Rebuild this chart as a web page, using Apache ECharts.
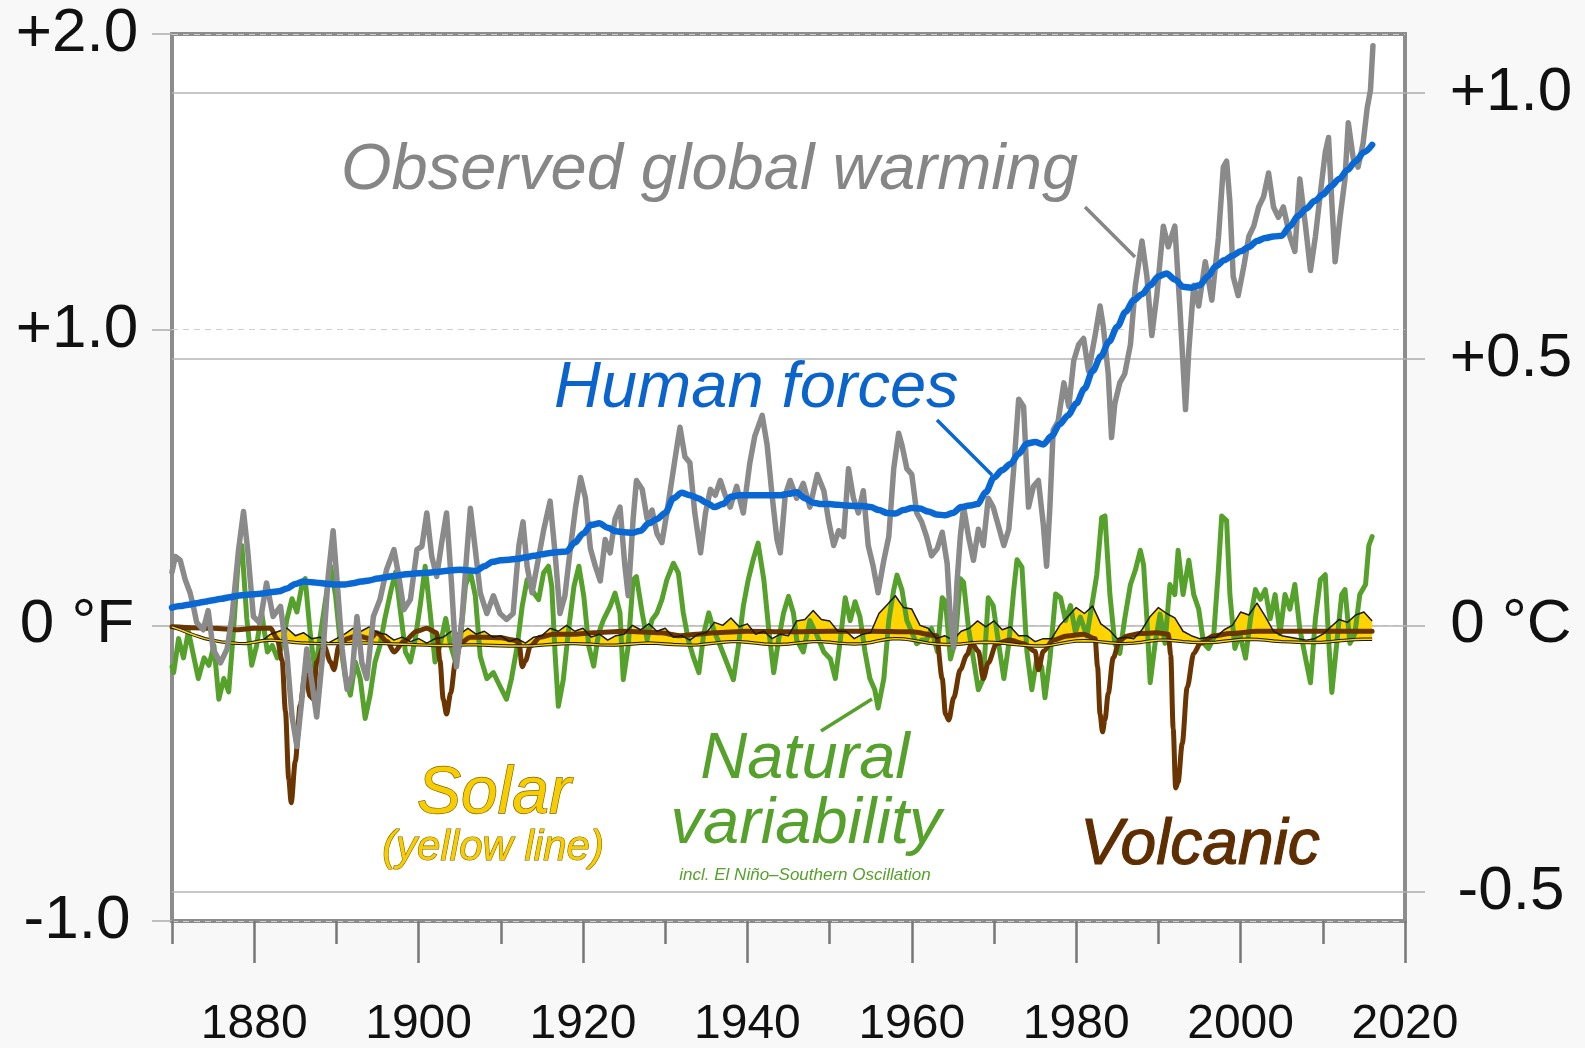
<!DOCTYPE html>
<html><head><meta charset="utf-8">
<script src="https://cdn.jsdelivr.net/npm/echarts@6/dist/echarts.min.js"></script>
<style>html,body{margin:0;padding:0;background:#f8f8f8}#c{width:1585px;height:1048px}</style>
</head><body><div id="c"></div><script>
// ---------- DATA (°F anomalies) ----------
const yearMin = 1870, yearMax = 2020;
const fTicks = [-1, 0, 1, 2];
const fTickLabels = {'2':'+2.0','1':'+1.0','0':'0 °F','-1':'-1.0'};
const cTicks = [-0.5, 0, 0.5, 1.0];
const cTickLabels = {'1':'+1.0','0.5':'+0.5','0':'0 °C','-0.5':'-0.5'};
const yearTickLabels = [1880,1900,1920,1940,1960,1980,2000,2020];

const humanStart = 1870;
const humanForces = [0.06,0.065,0.07,0.075,0.08,0.085,0.09,0.095,0.10,0.103,0.105,0.108,0.112,0.115,0.125,0.14,0.148,0.146,0.143,0.14,
0.138,0.138,0.142,0.148,0.152,0.158,0.163,0.167,0.171,0.174,0.176,0.178,0.18,0.183,0.186,0.188,0.186,0.184,0.20,0.215,
0.22,0.222,0.225,0.23,0.235,0.24,0.245,0.248,0.25,0.28,0.31,0.34,0.345,0.33,0.318,0.315,0.313,0.32,0.345,0.36,
0.38,0.43,0.448,0.44,0.43,0.415,0.40,0.41,0.435,0.44,0.44,0.44,0.44,0.44,0.44,0.445,0.45,0.43,0.415,0.41,
0.41,0.408,0.405,0.404,0.404,0.40,0.39,0.38,0.378,0.39,0.397,0.395,0.385,0.375,0.372,0.38,0.40,0.405,0.41,0.45,
0.50,0.525,0.546,0.58,0.615,0.62,0.612,0.64,0.68,0.71,0.75,0.80,0.86,0.91,0.96,1.01,1.06,1.10,1.12,1.15,
1.18,1.19,1.17,1.145,1.142,1.15,1.18,1.215,1.235,1.25,1.265,1.28,1.30,1.31,1.315,1.318,1.35,1.385,1.41,1.435,
1.457,1.485,1.51,1.54,1.57,1.60,1.625];

const observed = [[1870.0,0.18],[1870.4,0.233],[1871.0,0.22],[1871.6,0.155],[1872.2,0.11],[1872.6,0.064],[1873.0,0.01],[1873.8,-0.015],[1874.4,0.05],[1875.0,-0.08],[1875.9,-0.127],[1876.7,-0.08],[1877.3,0.03],[1878.1,0.256],[1878.7,0.385],[1879.2,0.256],[1879.9,0.03],[1880.7,0.008],[1881.5,0.143],[1882.3,0.03],[1883.2,0.064],[1884.0,-0.105],[1884.6,-0.308],[1885.2,-0.41],[1885.8,-0.25],[1886.4,-0.08],[1887.0,-0.19],[1887.6,-0.31],[1888.4,-0.08],[1889.0,0.165],[1889.6,0.32],[1890.1,0.143],[1890.7,-0.08],[1891.3,-0.217],[1891.9,-0.17],[1892.5,0.03],[1893.1,-0.127],[1893.7,-0.18],[1894.5,0.03],[1895.3,0.087],[1896.1,0.188],[1897.0,0.256],[1897.6,0.165],[1898.2,0.053],[1899.0,0.087],[1899.8,0.256],[1900.4,0.267],[1901.0,0.38],[1901.6,0.233],[1902.2,0.165],[1902.8,0.278],[1903.4,0.38],[1904.0,0.143],[1904.6,-0.14],[1905.3,0.03],[1905.9,0.256],[1906.3,0.396],[1906.9,0.256],[1907.5,0.11],[1908.3,0.04],[1909.1,0.10],[1909.9,0.04],[1910.7,0.02],[1911.5,0.04],[1912.2,0.27],[1912.7,0.35],[1913.2,0.20],[1913.8,0.11],[1914.4,0.20],[1915.2,0.32],[1916.0,0.42],[1916.6,0.245],[1917.2,0.04],[1917.8,0.10],[1918.4,0.245],[1919.1,0.40],[1919.7,0.50],[1920.3,0.43],[1920.9,0.26],[1921.5,0.20],[1922.1,0.15],[1922.7,0.29],[1923.3,0.245],[1923.9,0.36],[1924.5,0.40],[1925.1,0.20],[1925.5,0.10],[1926.1,0.36],[1926.5,0.49],[1927.2,0.46],[1927.8,0.36],[1928.4,0.39],[1929.0,0.31],[1929.6,0.28],[1930.2,0.38],[1930.8,0.49],[1931.4,0.60],[1931.8,0.67],[1932.4,0.57],[1933.0,0.55],[1933.6,0.38],[1934.3,0.245],[1934.9,0.38],[1935.5,0.46],[1936.1,0.44],[1936.7,0.49],[1937.3,0.44],[1937.9,0.40],[1938.7,0.47],[1939.5,0.38],[1940.3,0.55],[1940.9,0.64],[1941.8,0.71],[1942.4,0.61],[1943.0,0.44],[1943.6,0.29],[1944.0,0.245],[1944.6,0.44],[1945.2,0.49],[1946.0,0.43],[1946.8,0.48],[1947.6,0.40],[1948.5,0.51],[1949.3,0.455],[1949.9,0.35],[1950.5,0.27],[1951.1,0.32],[1951.7,0.30],[1952.3,0.53],[1952.9,0.43],[1953.5,0.38],[1954.1,0.455],[1954.7,0.27],[1955.3,0.20],[1955.9,0.11],[1956.6,0.22],[1957.2,0.30],[1957.8,0.53],[1958.4,0.65],[1958.8,0.61],[1959.4,0.53],[1960.0,0.51],[1960.6,0.38],[1961.2,0.35],[1961.8,0.30],[1962.4,0.235],[1963.1,0.26],[1963.7,0.315],[1964.3,0.21],[1964.7,0.015],[1965.1,-0.075],[1965.5,0.145],[1965.9,0.30],[1966.3,0.40],[1966.9,0.30],[1967.5,0.22],[1968.1,0.325],[1968.7,0.27],[1969.3,0.43],[1969.9,0.40],[1970.5,0.34],[1971.2,0.27],[1971.8,0.325],[1972.4,0.53],[1973.0,0.765],[1973.6,0.74],[1974.2,0.40],[1974.8,0.47],[1975.4,0.49],[1976.0,0.34],[1976.4,0.20],[1976.8,0.40],[1977.2,0.66],[1977.8,0.69],[1978.5,0.82],[1979.1,0.74],[1979.7,0.895],[1980.3,0.95],[1980.9,0.97],[1981.5,0.86],[1982.3,0.98],[1982.9,1.08],[1983.3,1.01],[1983.9,0.85],[1984.3,0.635],[1984.7,0.75],[1985.3,0.82],[1985.9,0.85],[1986.6,0.95],[1987.2,1.15],[1988.0,1.30],[1988.6,1.18],[1989.2,0.98],[1989.8,1.115],[1990.6,1.35],[1991.2,1.28],[1992.0,1.35],[1992.6,1.08],[1993.3,0.73],[1993.7,0.93],[1994.3,1.15],[1994.9,1.08],[1995.7,1.23],[1996.5,1.10],[1997.3,1.31],[1997.9,1.55],[1998.3,1.57],[1998.7,1.43],[1999.1,1.18],[1999.7,1.115],[2000.4,1.215],[2001.0,1.315],[2001.6,1.35],[2002.2,1.415],[2002.8,1.45],[2003.4,1.53],[2004.0,1.415],[2004.6,1.38],[2005.2,1.415],[2006.0,1.315],[2006.6,1.265],[2007.2,1.51],[2007.9,1.35],[2008.5,1.20],[2009.1,1.315],[2009.7,1.46],[2010.3,1.60],[2010.7,1.65],[2011.1,1.43],[2011.5,1.23],[2012.1,1.38],[2012.7,1.51],[2013.1,1.70],[2013.7,1.58],[2014.3,1.55],[2014.9,1.63],[2015.4,1.75],[2015.8,1.81],[2016.1,1.96]];

const natural = [[1870.0,-0.14],[1870.2,-0.16],[1870.8,-0.045],[1871.4,-0.11],[1872.0,-0.02],[1872.6,-0.10],[1873.2,-0.18],[1873.9,-0.11],[1874.5,-0.135],[1875.1,-0.068],[1875.7,-0.25],[1876.3,-0.18],[1876.9,-0.225],[1877.5,-0.01],[1878.1,0.237],[1878.5,0.27],[1879.1,0.023],[1879.7,-0.135],[1880.3,-0.068],[1880.9,0.045],[1881.6,-0.09],[1882.2,-0.068],[1882.8,-0.11],[1883.4,-0.068],[1884.0,0.023],[1884.6,0.09],[1885.2,0.045],[1885.8,0.135],[1886.2,0.158],[1886.8,-0.023],[1887.4,-0.158],[1888.1,-0.023],[1888.7,0.09],[1889.3,0.20],[1889.9,0.10],[1890.5,-0.068],[1891.1,-0.18],[1891.7,-0.236],[1892.3,-0.124],[1892.9,-0.18],[1893.5,-0.315],[1894.1,-0.236],[1894.7,-0.124],[1895.3,-0.068],[1895.9,0.023],[1896.6,0.113],[1897.2,0.18],[1897.8,0.045],[1898.4,-0.09],[1899.0,-0.124],[1899.6,-0.045],[1900.2,0.068],[1900.8,0.20],[1901.4,0.045],[1902.0,-0.124],[1902.6,-0.068],[1903.3,0.023],[1903.9,-0.068],[1904.5,-0.124],[1905.1,-0.045],[1905.7,0.135],[1906.3,0.18],[1906.9,0.10],[1907.5,-0.105],[1908.3,-0.18],[1909.1,-0.16],[1909.9,-0.206],[1910.7,-0.25],[1911.3,-0.18],[1912.0,-0.07],[1912.6,0.064],[1913.2,0.154],[1914.0,0.11],[1914.6,0.087],[1915.2,0.177],[1915.8,0.20],[1916.2,0.132],[1916.6,-0.094],[1917.0,-0.274],[1917.6,-0.184],[1918.2,-0.026],[1918.9,0.132],[1919.5,0.20],[1920.1,0.098],[1920.7,-0.07],[1921.3,-0.138],[1921.9,-0.026],[1922.5,0.019],[1923.3,0.064],[1923.9,0.109],[1924.5,0.042],[1924.9,-0.184],[1925.5,-0.07],[1926.1,0.154],[1926.5,0.165],[1927.2,0.042],[1927.8,-0.048],[1928.4,0.019],[1929.0,0.042],[1929.6,0.087],[1930.2,0.154],[1931.0,0.21],[1931.6,0.177],[1932.2,0.042],[1932.8,-0.048],[1933.4,-0.105],[1934.1,-0.16],[1934.7,-0.026],[1935.3,0.042],[1935.9,-0.015],[1936.7,-0.07],[1937.5,-0.127],[1938.3,-0.184],[1938.9,-0.07],[1939.5,0.064],[1940.1,0.154],[1940.7,0.222],[1941.3,0.278],[1942.0,0.154],[1942.6,-0.015],[1943.2,-0.16],[1943.8,-0.048],[1944.4,0.042],[1945.0,0.098],[1945.6,0.042],[1946.0,-0.05],[1946.8,-0.09],[1947.6,0.016],[1948.5,-0.036],[1949.3,-0.09],[1950.1,-0.114],[1950.7,-0.18],[1951.3,-0.05],[1951.9,0.093],[1952.5,0.016],[1953.1,0.08],[1953.7,0.028],[1954.3,-0.088],[1954.9,-0.18],[1955.5,-0.218],[1955.9,-0.28],[1956.6,-0.18],[1957.2,0.016],[1957.8,0.12],[1958.2,0.17],[1958.8,0.12],[1959.4,0.016],[1960.0,-0.023],[1960.6,-0.062],[1961.2,-0.05],[1961.8,-0.05],[1962.4,-0.01],[1963.1,-0.088],[1963.7,0.093],[1964.1,0.08],[1964.7,-0.114],[1965.3,-0.05],[1965.9,0.158],[1966.3,0.145],[1966.9,-0.01],[1967.5,-0.114],[1968.1,-0.218],[1968.7,-0.18],[1969.3,0.093],[1969.9,0.067],[1970.5,-0.05],[1971.2,-0.18],[1971.8,-0.062],[1972.4,0.12],[1972.8,0.222],[1973.4,0.197],[1974.0,-0.088],[1974.6,-0.218],[1975.2,-0.114],[1975.8,-0.14],[1976.2,-0.245],[1976.8,-0.114],[1977.5,0.106],[1978.1,0.093],[1978.7,0.016],[1979.3,0.067],[1979.9,-0.023],[1980.5,0.028],[1981.3,-0.036],[1981.9,0.067],[1982.5,0.17],[1983.1,0.365],[1983.5,0.37],[1984.1,0.104],[1984.7,-0.062],[1985.3,-0.095],[1985.9,0.022],[1986.6,0.138],[1987.2,0.187],[1987.8,0.254],[1988.2,0.204],[1988.6,0.022],[1989.0,-0.194],[1989.6,-0.061],[1990.2,0.038],[1990.8,-0.061],[1991.4,0.138],[1992.0,0.104],[1992.4,0.254],[1993.0,0.104],[1993.7,0.22],[1994.3,0.104],[1994.9,0.055],[1995.5,-0.061],[1996.1,-0.078],[1996.7,-0.045],[1997.3,0.187],[1997.7,0.37],[1998.3,0.354],[1998.7,0.104],[1999.3,-0.078],[1999.9,-0.028],[2000.6,-0.111],[2001.2,0.022],[2001.8,0.121],[2002.4,0.088],[2003.0,0.121],[2003.6,0.022],[2004.2,0.104],[2004.8,-0.028],[2005.4,0.104],[2006.0,0.055],[2006.6,0.138],[2007.2,-0.011],[2007.9,-0.111],[2008.5,-0.194],[2009.1,0.022],[2009.7,0.154],[2010.3,0.171],[2010.7,-0.045],[2011.1,-0.227],[2011.7,-0.061],[2012.3,0.104],[2012.7,0.121],[2013.3,-0.061],[2013.9,-0.028],[2014.5,0.104],[2015.2,0.138],[2015.6,0.27],[2016.0,0.30]];

const volcanic = [[1870.0,-0.005],[1875.0,-0.01],[1878.0,-0.015],[1880.0,-0.01],[1882.0,-0.01],[1882.8,-0.045],[1883.4,-0.12],[1883.8,-0.29],[1884.2,-0.52],[1884.5,-0.60],[1885.0,-0.46],[1885.6,-0.27],[1886.2,-0.16],[1886.8,-0.24],[1887.2,-0.25],[1887.6,-0.125],[1888.5,-0.07],[1889.3,-0.125],[1889.7,-0.15],[1890.3,-0.07],[1891.3,-0.045],[1892.5,-0.035],[1894.1,-0.045],[1894.9,-0.025],[1896.2,-0.055],[1897.0,-0.09],[1898.2,-0.055],[1899.8,-0.02],[1901.0,-0.01],[1902.2,-0.025],[1902.6,-0.12],[1903.0,-0.25],[1903.4,-0.30],[1903.9,-0.23],[1904.5,-0.12],[1905.1,-0.06],[1906.3,-0.04],[1908.0,-0.04],[1910.0,-0.042],[1911.5,-0.05],[1912.2,-0.055],[1912.6,-0.14],[1913.0,-0.12],[1913.6,-0.07],[1914.8,-0.04],[1916.4,-0.03],[1918.9,-0.03],[1921.3,-0.025],[1925.0,-0.02],[1929.4,-0.025],[1931.8,-0.035],[1933.8,-0.03],[1936.0,-0.025],[1940.0,-0.02],[1945.0,-0.022],[1950.0,-0.02],[1955.0,-0.02],[1960.0,-0.022],[1963.0,-0.035],[1963.7,-0.18],[1964.1,-0.30],[1964.5,-0.32],[1965.1,-0.245],[1965.9,-0.15],[1966.7,-0.10],[1967.3,-0.06],[1968.1,-0.088],[1968.7,-0.18],[1969.3,-0.127],[1970.3,-0.062],[1971.9,-0.05],[1973.6,-0.062],[1975.0,-0.088],[1975.4,-0.15],[1976.0,-0.088],[1977.2,-0.05],[1978.9,-0.036],[1980.9,-0.03],[1982.3,-0.045],[1982.6,-0.14],[1982.9,-0.30],[1983.2,-0.36],[1983.5,-0.32],[1983.9,-0.23],[1984.5,-0.11],[1985.3,-0.05],[1986.2,-0.036],[1987.8,-0.028],[1989.8,-0.025],[1991.2,-0.03],[1991.5,-0.10],[1991.8,-0.35],[1992.1,-0.55],[1992.4,-0.53],[1992.9,-0.40],[1993.5,-0.21],[1994.3,-0.095],[1995.1,-0.061],[1996.7,-0.036],[1998.7,-0.028],[2002.0,-0.02],[2006.0,-0.02],[2010.0,-0.02],[2016.0,-0.02]];

const solarStart = 1870;
const solarBase = [-0.005,-0.015,-0.026,-0.036,-0.045,-0.051,-0.056,-0.059,-0.061,-0.062,
-0.057,-0.052,-0.05,-0.052,-0.055,-0.058,-0.06,-0.061,-0.062,-0.062,
-0.062,-0.062,-0.061,-0.06,-0.06,-0.061,-0.062,-0.063,-0.064,-0.065,
-0.066,-0.067,-0.068,-0.068,-0.068,-0.067,-0.066,-0.066,-0.067,-0.068,
-0.069,-0.07,-0.07,-0.07,-0.069,-0.067,-0.065,-0.063,-0.062,-0.062,
-0.063,-0.064,-0.066,-0.067,-0.067,-0.065,-0.063,-0.061,-0.06,-0.061,
-0.063,-0.065,-0.066,-0.067,-0.066,-0.063,-0.06,-0.057,-0.055,-0.055,
-0.057,-0.06,-0.063,-0.065,-0.065,-0.063,-0.06,-0.057,-0.055,-0.055,
-0.057,-0.06,-0.062,-0.063,-0.062,-0.058,-0.052,-0.047,-0.045,-0.046,
-0.05,-0.055,-0.06,-0.063,-0.065,-0.065,-0.063,-0.06,-0.058,-0.057,
-0.058,-0.06,-0.063,-0.066,-0.068,-0.07,-0.07,-0.067,-0.062,-0.057,
-0.053,-0.052,-0.053,-0.056,-0.059,-0.061,-0.062,-0.06,-0.057,-0.053,
-0.05,-0.05,-0.052,-0.055,-0.057,-0.058,-0.058,-0.057,-0.054,-0.051,
-0.048,-0.047,-0.048,-0.05,-0.053,-0.055,-0.056,-0.057,-0.058,-0.058,
-0.057,-0.055,-0.052,-0.05,-0.048,-0.047,-0.047];
const solarTop = [-0.005,-0.015,-0.026,-0.036,-0.045,-0.051,-0.056,-0.059,-0.061,-0.062,
-0.057,-0.052,-0.03,-0.02,-0.01,-0.035,-0.025,-0.045,-0.04,-0.06,
-0.045,-0.03,-0.01,-0.02,-0.005,-0.025,-0.03,-0.05,-0.04,-0.055,
-0.045,-0.06,-0.045,-0.04,-0.02,-0.03,-0.01,-0.03,-0.02,-0.04,
-0.035,-0.055,-0.045,-0.06,-0.04,-0.035,-0.01,-0.02,0.0,-0.02,
-0.01,-0.04,-0.03,-0.05,-0.035,-0.03,0.0,-0.015,0.005,-0.02,
-0.01,-0.04,-0.035,-0.05,-0.03,-0.025,0.01,0.0,0.025,-0.005,
0.005,-0.03,-0.02,-0.045,-0.03,-0.035,0.015,0.02,0.05,0.02,
0.015,-0.02,-0.02,-0.045,-0.03,-0.025,0.04,0.07,0.10,0.06,
0.055,0.0,-0.01,-0.045,-0.035,-0.05,-0.02,-0.01,0.015,-0.005,
0.015,-0.015,-0.005,-0.035,-0.035,-0.055,-0.045,-0.045,0.0,0.03,
0.06,0.04,0.065,0.005,-0.015,-0.045,-0.04,-0.045,-0.015,0.03,
0.06,0.04,0.025,-0.02,-0.035,-0.045,-0.04,-0.04,-0.015,0.0,
0.045,0.035,0.075,0.03,-0.02,-0.035,-0.04,-0.045,-0.05,-0.045,
-0.03,-0.005,0.02,0.01,0.035,0.045,0.015];

// ---------- BUILD ----------
const categories = [];
for (let y = yearMin; y <= yearMax; y++) categories.push(String(y));
const humanData = humanForces.map((v, i) => [humanStart + i, v]);
const solarBand = solarTop.map((v, i) => +(v - solarBase[i]).toFixed(4));

const FONT = '"Liberation Sans", Arial, Helvetica, sans-serif';
const chart = echarts.init(document.getElementById('c'), null, {renderer: 'canvas'});

const lineBase = {type: 'line', showSymbol: false, symbol: 'none', silent: true, animation: false};

chart.setOption({
  backgroundColor: '#f8f8f8',
  animation: false,
  grid: {left: 172, right: 180, top: 34, bottom: 127, show: true, backgroundColor: '#ffffff',
         borderColor: '#8c8c8c', borderWidth: 4, containLabel: false, outerBoundsMode: 'none'},
  xAxis: [
    {type: 'value', min: yearMin, max: yearMax, interval: 10, position: 'bottom',
     axisLine: {show: false, onZero: false}, axisLabel: {show: false}, splitLine: {show: false},
     axisTick: {show: true, inside: false, length: 23, lineStyle: {color: '#777', width: 2.5}}},
    {type: 'value', min: yearMin, max: yearMax, position: 'bottom',
     axisLine: {show: false, onZero: false}, splitLine: {show: false},
     axisTick: {show: true, length: 42, customValues: yearTickLabels, lineStyle: {color: '#777', width: 2.5}},
     axisLabel: {show: true, customValues: yearTickLabels, margin: 80, fontSize: 48, fontFamily: FONT, color: '#111',
                 formatter: v => String(v)}},
    {type: 'category', data: categories, boundaryGap: false, show: false, axisLine: {onZero: false}}
  ],
  yAxis: [
    {type: 'value', min: -1, max: 2, interval: 1, position: 'left',
     axisLine: {show: false, onZero: false},
     axisTick: {show: true, length: 20, lineStyle: {color: '#aaa', width: 1.5}},
     axisLabel: {margin: 95, align: 'center', fontSize: 62, fontFamily: FONT, color: '#111',
                 formatter: v => fTickLabels[String(v)] || ''},
     splitLine: {show: true, lineStyle: {color: '#cfcfcf', width: 1.2, type: [6, 5]}}},
    {type: 'value', min: -1 / 1.8, max: 2 / 1.8, position: 'right',
     axisLine: {show: false, onZero: false},
     axisTick: {show: true, length: 20, customValues: cTicks, lineStyle: {color: '#aaa', width: 1.5}},
     axisLabel: {customValues: cTicks, margin: 106, align: 'center', fontSize: 62, fontFamily: FONT, color: '#111',
                 formatter: v => cTickLabels[String(v)] || ''},
     splitLine: {show: true, lineStyle: {color: '#b5b5b5', width: 1.5, type: 'solid'}}}
  ],
  series: [
    Object.assign({}, lineBase, {name: 'Natural variability', xAxisIndex: 0, yAxisIndex: 0, data: natural,
      lineStyle: {color: '#56a12b', width: 5, join: 'round', cap: 'round'}}),
    Object.assign({}, lineBase, {name: 'Volcanic', xAxisIndex: 0, yAxisIndex: 0, data: volcanic,
      smooth: 0.3, smoothMonotone: 'x',
      lineStyle: {color: '#6a3500', width: 5, join: 'round', cap: 'round'}}),
    Object.assign({}, lineBase, {name: 'solarBase', xAxisIndex: 2, yAxisIndex: 0, data: solarBase,
      stack: 'solar', stackStrategy: 'all', lineStyle: {width: 0, opacity: 0}}),
    Object.assign({}, lineBase, {name: 'Solar', xAxisIndex: 2, yAxisIndex: 0, data: solarBand,
      stack: 'solar', stackStrategy: 'all',
      areaStyle: {color: '#ffd400', opacity: 1},
      lineStyle: {color: '#1a1a1a', width: 1.5, join: 'round'}}),
    Object.assign({}, lineBase, {name: 'solarTrendOutline', xAxisIndex: 2, yAxisIndex: 0, data: solarBase,
      lineStyle: {color: '#1a1a1a', width: 3.4}}),
    Object.assign({}, lineBase, {name: 'solarTrend', xAxisIndex: 2, yAxisIndex: 0, data: solarBase,
      lineStyle: {color: '#ffd400', width: 1.4}}),
    Object.assign({}, lineBase, {name: 'Observed', xAxisIndex: 0, yAxisIndex: 0, data: observed,
      lineStyle: {color: '#8a8a8a', width: 5.5, join: 'round', cap: 'round'}}),
    Object.assign({}, lineBase, {name: 'Human forces', xAxisIndex: 0, yAxisIndex: 0, data: humanData,
      smooth: 0.3, smoothMonotone: 'x',
      lineStyle: {color: '#0a68d4', width: 6.5, join: 'round', cap: 'round'}})
  ],
  graphic: [
    {type: 'line', z: 100, shape: {x1: 1085, y1: 207, x2: 1135, y2: 257}, style: {stroke: '#868686', lineWidth: 3.5}},
    {type: 'line', z: 100, shape: {x1: 937, y1: 420, x2: 992, y2: 475}, style: {stroke: '#0a68d4', lineWidth: 3.5}},
    {type: 'line', z: 100, shape: {x1: 821, y1: 731, x2: 872, y2: 699}, style: {stroke: '#56a12b', lineWidth: 3.5}},
    {type: 'text', z: 100, x: 341, y: 171, style: {text: 'Observed global warming', font: 'italic 65px ' + FONT,
      fill: '#868686', textAlign: 'left', align: 'left', textVerticalAlign: 'middle', verticalAlign: 'middle'}},
    {type: 'text', z: 100, x: 554, y: 389, style: {text: 'Human forces', font: 'italic 65px ' + FONT,
      fill: '#0a64cc', textAlign: 'left', align: 'left', textVerticalAlign: 'middle', verticalAlign: 'middle'}},
    {type: 'text', z: 100, x: 805, y: 760, style: {text: 'Natural', font: 'italic 65px ' + FONT,
      fill: '#56a12b', textAlign: 'center', align: 'center', textVerticalAlign: 'middle', verticalAlign: 'middle'}},
    {type: 'text', z: 100, x: 806, y: 825, style: {text: 'variability', font: 'italic 65px ' + FONT,
      fill: '#56a12b', textAlign: 'center', align: 'center', textVerticalAlign: 'middle', verticalAlign: 'middle'}},
    {type: 'text', z: 100, x: 805, y: 875, style: {text: 'incl. El Niño–Southern Oscillation', font: 'italic 17px ' + FONT,
      fill: '#56a12b', textAlign: 'center', align: 'center', textVerticalAlign: 'middle', verticalAlign: 'middle'}},
    {type: 'text', z: 100, x: 494, y: 795, style: {text: 'Solar', font: 'italic 66px ' + FONT,
      fill: '#f7cd00', stroke: '#7d6300', lineWidth: 1.3, textAlign: 'center', align: 'center', textVerticalAlign: 'middle', verticalAlign: 'middle'}},
    {type: 'text', z: 100, x: 493, y: 848, style: {text: '(yellow line)', font: 'italic 42px ' + FONT,
      fill: '#f7cd00', stroke: '#7d6300', lineWidth: 1.1, textAlign: 'center', align: 'center', textVerticalAlign: 'middle', verticalAlign: 'middle'}},
    {type: 'text', z: 100, x: 1200, y: 846, style: {text: 'Volcanic', font: 'italic 64px ' + FONT,
      fill: '#5e2e00', stroke: '#5e2e00', lineWidth: 1.2, textAlign: 'center', align: 'center', textVerticalAlign: 'middle', verticalAlign: 'middle'}}
  ]
});
</script></body></html>
